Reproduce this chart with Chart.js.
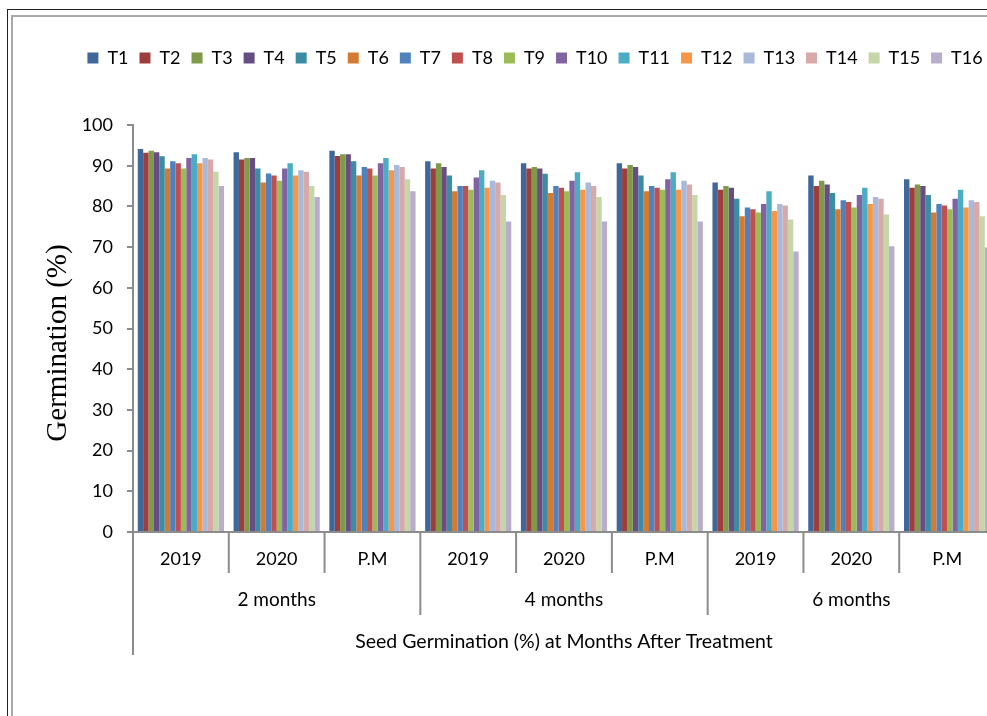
<!DOCTYPE html>
<html>
<head>
<meta charset="utf-8">
<script src="https://cdn.jsdelivr.net/npm/chart.js@4.4.0/dist/chart.umd.min.js"></script>
<style>
  html, body { margin: 0; padding: 0; background: #fff; overflow: hidden; width: 987px; height: 716px; }
  #outer { position: absolute; left: 7px; top: 9px; width: 1100px; height: 800px; border-left: 1.5px solid #222; border-top: 1.5px solid #222; }
  #inner { position: absolute; left: 11px; top: 15px; width: 1100px; height: 800px; border-left: 2px solid #a8a8a8; border-top: 2px solid #a8a8a8; }
  #wrap { position: absolute; left: 13px; top: 17px; width: 1044px; height: 699px; }
</style>
</head>
<body>
<div id="outer"></div>
<div id="inner"></div>
<div id="wrap"><canvas id="germChart"></canvas></div>
<script>
// sub-category labels (first level) and period labels (second level)
const categories = ['2019', '2020', 'P.M', '2019', '2020', 'P.M', '2019', '2020', 'P.M'];
const periods = ['2 months', '4 months', '6 months'];
const yTicks = [0, 10, 20, 30, 40, 50, 60, 70, 80, 90, 100];

// germination % per treatment, one value per category
const T1  = [94.1, 93.3, 93.7, 91.1, 90.6, 90.6, 85.9, 87.6, 86.7];
const T2  = [93.2, 91.5, 92.4, 89.3, 89.3, 89.3, 84.1, 85.0, 84.6];
const T3  = [93.7, 91.9, 92.8, 90.6, 89.7, 90.2, 85.0, 86.3, 85.4];
const T4  = [93.3, 91.9, 92.8, 89.7, 89.3, 89.7, 84.6, 85.4, 85.0];
const T5  = [92.3, 89.3, 91.1, 87.6, 88.0, 87.6, 81.9, 83.3, 82.8];
const T6  = [89.3, 85.9, 87.6, 83.7, 83.3, 83.7, 77.6, 79.3, 78.5];
const T7  = [91.1, 88.1, 89.7, 85.0, 85.0, 85.0, 79.7, 81.5, 80.6];
const T8  = [90.6, 87.6, 89.3, 85.0, 84.6, 84.6, 79.3, 81.1, 80.2];
const T9  = [89.3, 86.3, 87.6, 84.1, 83.7, 84.1, 78.5, 79.7, 79.3];
const T10 = [91.9, 89.3, 90.6, 87.1, 86.3, 86.7, 80.6, 82.8, 81.9];
const T11 = [92.8, 90.6, 91.9, 88.9, 88.4, 88.4, 83.7, 84.6, 84.1];
const T12 = [90.6, 87.6, 88.9, 84.6, 84.1, 84.1, 78.9, 80.6, 79.7];
const T13 = [91.9, 88.9, 90.2, 86.3, 85.9, 86.3, 80.6, 82.3, 81.5];
const T14 = [91.5, 88.5, 89.7, 85.9, 85.0, 85.4, 80.2, 81.9, 81.1];
const T15 = [88.5, 85.0, 86.7, 82.8, 82.3, 82.8, 76.8, 78.0, 77.6];
const T16 = [85.0, 82.3, 83.7, 76.3, 76.3, 76.3, 68.9, 70.2, 69.9];

const seriesNames = ['T1', 'T2', 'T3', 'T4', 'T5', 'T6', 'T7', 'T8', 'T9', 'T10', 'T11', 'T12', 'T13', 'T14', 'T15', 'T16'];
const seriesData = [T1, T2, T3, T4, T5, T6, T7, T8, T9, T10, T11, T12, T13, T14, T15, T16];
const seriesColors = [
  '#3f679a', '#9e3d3a', '#7f9a48', '#664e85', '#3b8ca4', '#d37a35',
  '#4f81bd', '#c0504d', '#9bbb59', '#8064a2', '#4bacc6', '#f79646',
  '#a9b9d9', '#d9a9a8', '#c5d6a8', '#b8adcb'
];

const sansFont = 'Lato, "Open Sans", sans-serif';

// extra room under the legend, and centre it on the whole canvas
const legendGap = {
  id: 'legendGap',
  beforeInit(chart) {
    const fit = chart.legend.fit;
    chart.legend.fit = function () {
      fit.bind(chart.legend)();
      this.height += 48;
    };
  },
  afterLayout(chart) {
    chart.legend.right = chart.legend.left + chart.width;
  }
};

// dividers and the period labels under the category axis
const groupAxis = {
  id: 'groupAxis',
  afterDraw(chart) {
    const x = chart.scales.x;
    const ctx = chart.ctx;
    const step = (x.right - x.left) / categories.length;
    const y0 = x.top;
    ctx.save();
    ctx.strokeStyle = '#8c8c8c';
    ctx.lineWidth = 2;
    for (let i = 0; i <= categories.length; i++) {
      const px = x.left + i * step;
      let len = 41;
      if (i % 3 === 0) len = 83;
      if (i === 0 || i === categories.length) len = 123;
      ctx.beginPath();
      ctx.moveTo(px, y0);
      ctx.lineTo(px, y0 + len);
      ctx.stroke();
    }
    ctx.fillStyle = '#000';
    ctx.font = '19px ' + sansFont;
    ctx.textAlign = 'center';
    ctx.textBaseline = 'middle';
    periods.forEach((p, k) => {
      ctx.fillText(p, x.left + (k * 3 + 1.5) * step, y0 + 68);
    });
    ctx.restore();
  }
};

const ctx = document.getElementById('germChart').getContext('2d');

new Chart(ctx, {
  type: 'bar',
  data: {
    labels: categories,
    datasets: seriesNames.map((name, i) => ({
      label: name,
      data: seriesData[i],
      backgroundColor: seriesColors[i],
      borderWidth: 0,
      barPercentage: 1.0,
      categoryPercentage: 0.9
    }))
  },
  options: {
    responsive: true,
    maintainAspectRatio: false,
    animation: false,
    layout: {
      padding: { top: 21, left: 0, right: 62, bottom: 0 }
    },
    plugins: {
      legend: {
        position: 'top',
        labels: {
          boxWidth: 11,
          boxHeight: 11,
          padding: 11,
          color: '#000',
          font: { family: sansFont, size: 18 }
        }
      },
      tooltip: { enabled: false }
    },
    scales: {
      x: {
        grid: { display: false, drawTicks: false },
        border: { display: true, color: '#8c8c8c', width: 2 },
        ticks: {
          color: '#000',
          padding: 16,
          font: { family: sansFont, size: 18 }
        },
        title: {
          display: true,
          text: 'Seed Germination (%) at Months After Treatment',
          color: '#000',
          font: { family: sansFont, size: 19.5 },
          padding: { top: 44, bottom: 63 }
        }
      },
      y: {
        min: 0,
        max: 100,
        afterFit(scale) { scale.width = 120; },
        afterBuildTicks(scale) { scale.ticks = yTicks.map(v => ({ value: v })); },
        grid: { drawOnChartArea: false, drawTicks: true, tickLength: 6, color: '#8c8c8c', lineWidth: 2 },
        border: { display: true, color: '#8c8c8c', width: 2 },
        ticks: {
          color: '#000',
          padding: 14,
          font: { family: sansFont, size: 18 }
        },
        title: {
          display: true,
          text: 'Germination (%)    ',
          color: '#000',
          font: { family: '"Liberation Serif", "Times New Roman", serif', size: 29 },
          padding: { top: 28, bottom: 0 }
        }
      }
    }
  },
  plugins: [legendGap, groupAxis]
});
</script>
</body>
</html>
